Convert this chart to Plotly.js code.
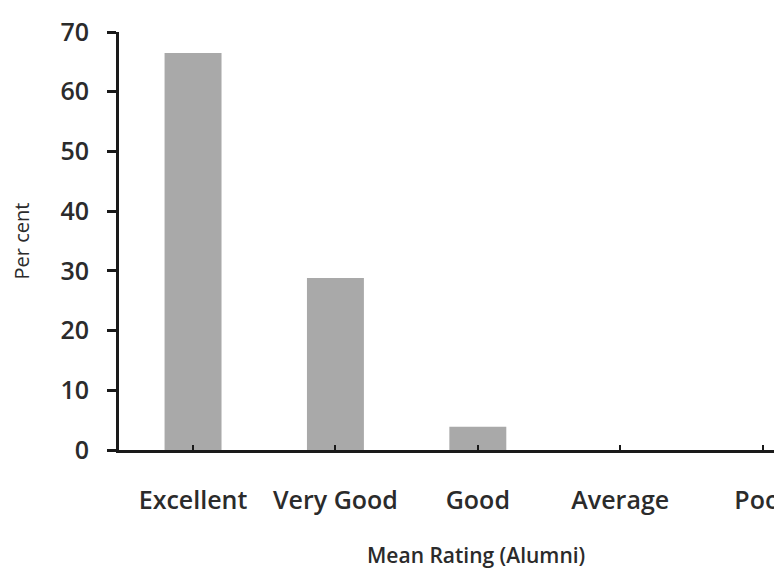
<!DOCTYPE html>
<html>
<head>
<meta charset="utf-8">
<script src="https://cdn.plot.ly/plotly-3.0.1.min.js"></script>
<style>html,body{margin:0;padding:0;background:#fff;}#chart{width:774px;height:570px;}</style>
</head>
<body>
<div id="chart"></div>
<script>
var categories = ["Excellent", "Very Good", "Good", "Average", "Poor"];
var percentValues = [66.5, 28.8, 3.9, 0, 0];
var yTickValues = [0, 10, 20, 30, 40, 50, 60, 70];
var xTitle = "Mean Rating (Alumni)";
var yTitle = "Per cent";

var trace = {
  type: "bar",
  x: categories,
  y: percentValues,
  width: 0.4,
  marker: {color: "#a9a9a9", line: {width: 0}},
  hoverinfo: "none"
};

var layout = {
  width: 774,
  height: 570,
  margin: {l: 119, r: 0, t: 32, b: 120},
  paper_bgcolor: "#fff",
  plot_bgcolor: "#fff",
  showlegend: false,
  font: {family: "Open Sans, sans-serif", color: "#2b2b2b"},
  xaxis: {
    type: "category",
    range: [-0.52, 4.08],
    showgrid: false,
    zeroline: false,
    showline: true,
    linecolor: "#1a1a1a",
    linewidth: 3,
    ticks: "inside",
    ticklen: 5,
    tickwidth: 2,
    tickcolor: "#1a1a1a",
    tickfont: {size: 25, color: "#2b2b2b", weight: 600},
    ticklabelstandoff: 26
  },
  yaxis: {
    range: [0, 70],
    tickvals: yTickValues,
    showgrid: false,
    zeroline: false,
    showline: true,
    linecolor: "#1a1a1a",
    linewidth: 3,
    ticks: "outside",
    ticklen: 9,
    tickwidth: 3,
    tickcolor: "#1a1a1a",
    tickfont: {size: 25, color: "#2b2b2b", weight: 600},
    ticklabelstandoff: 13,
    title: {text: yTitle, font: {size: 20, color: "#2b2b2b", weight: 500}, standoff: 26}
  },
  annotations: [{
    text: xTitle,
    xref: "paper", yref: "paper",
    x: 0.545, y: -0.251,
    xanchor: "center", yanchor: "middle",
    showarrow: false,
    font: {size: 21, color: "#2b2b2b", weight: 600}
  }]
};

Plotly.newPlot("chart", [trace], layout, {staticPlot: true, displayModeBar: false});
</script>
</body>
</html>
